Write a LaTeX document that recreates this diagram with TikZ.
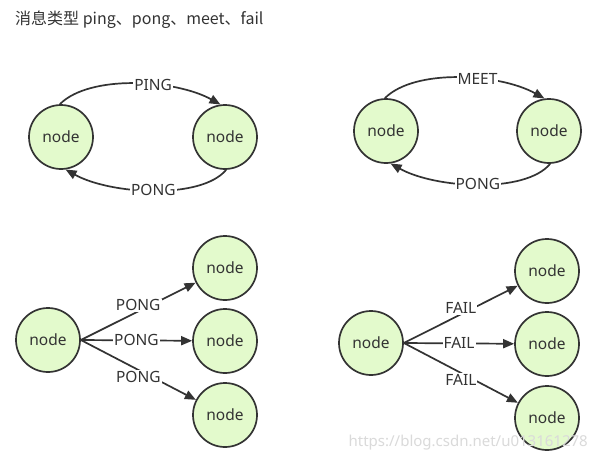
\documentclass[tikz,border=0pt]{standalone}
\usepackage{fontspec}
\setmainfont{Noto Sans}
\newfontfamily\cjk{Noto Sans CJK SC}
\usetikzlibrary{arrows.meta}
\definecolor{ink}{HTML}{333333}
\definecolor{nodefill}{HTML}{E3FACC}
\definecolor{wm}{HTML}{DADADA}
\tikzset{
  peer/.style={circle, draw=ink, fill=nodefill, line width=1.7pt, minimum size=64pt, inner sep=0pt, text=ink, font=\fontsize{15.5}{18}\selectfont},
  msg/.style={draw=ink, line width=1.7pt, -{Triangle[length=11pt,width=9pt]}},
  lbl/.style={fill=white, inner sep=1pt, text=ink, font=\fontsize{15.5}{18}\selectfont},
}
\begin{document}
\begin{tikzpicture}[x=1pt,y=-1pt]
\useasboundingbox[fill=white] (0,0) rectangle (596,460);
\node[anchor=west, text=ink, font=\cjk\fontsize{16}{18}\selectfont, inner sep=0pt] (title) at (15,20) {消息类型 ping、pong、meet、fail};

% top-left
\node[peer] (a1) at (61,137) {node};
\node[peer] (a2) at (225,137) {node};
\draw[msg] (a1.92) .. controls +(30,-30) and +(-45,-25) .. node[lbl, pos=0.6] (l1) {PING} (a2.98);
\draw[msg] (a2.-88) .. controls +(-25,30) and +(45,25) .. node[lbl, pos=0.5] (l2) {PONG} (a1.-82);

% top-right
\node[peer] (b1) at (386,131) {node};
\node[peer] (b2) at (549,131) {node};
\draw[msg] (b1.92) .. controls +(30,-30) and +(-45,-25) .. node[lbl, pos=0.6] (l3) {MEET} (b2.98);
\draw[msg] (b2.-88) .. controls +(-25,30) and +(45,25) .. node[lbl, pos=0.5] (l4) {PONG} (b1.-82);

% bottom-left
\node[peer] (c0) at (48,340) {node};
\node[peer] (c1) at (225,268) {node};
\node[peer] (c2) at (225,341) {node};
\node[peer] (c3) at (225,415) {node};
\coordinate (cs) at (c0.east);
\draw[msg] (cs) -- node[lbl, pos=0.5, yshift=6pt] (l5) {PONG} (c1);
\draw[msg] (cs) -- node[lbl, pos=0.5] (l6) {PONG} (c2);
\draw[msg] (cs) -- node[lbl, pos=0.5, yshift=-7pt] (l7) {PONG} (c3);

% bottom-right
\node[peer] (d0) at (371,343) {node};
\node[peer] (d1) at (547,271) {node};
\node[peer] (d2) at (547,344) {node};
\node[peer] (d3) at (547,418) {node};
\coordinate (ds) at (d0.east);
\draw[msg] (ds) -- node[lbl, pos=0.5, yshift=6pt] (l8) {FAIL} (d1);
\draw[msg] (ds) -- node[lbl, pos=0.5] (l9) {FAIL} (d2);
\draw[msg] (ds) -- node[lbl, pos=0.5, yshift=-7pt] (l10) {FAIL} (d3);

\node[text=wm, font=\fontsize{15}{18}\selectfont, anchor=east, inner sep=0pt] (wmk) at (588,443) {https://blog.csdn.net/u013161278};
\end{tikzpicture}
\end{document}
